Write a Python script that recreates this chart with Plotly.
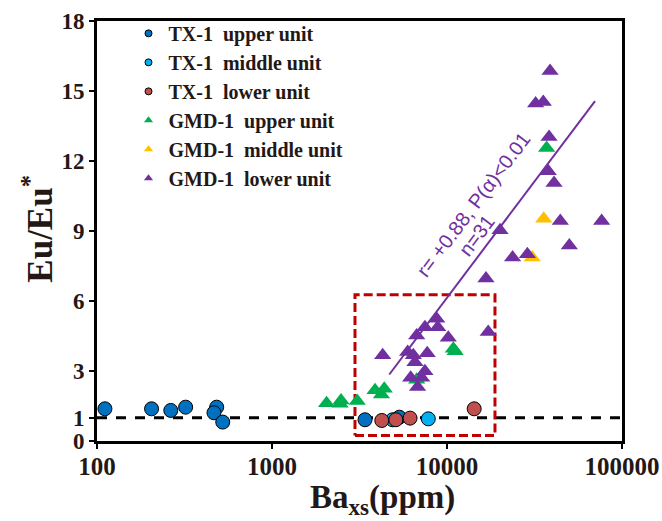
import plotly.graph_objects as go

# --- data -----------------------------------------------------------------
tx_upper_x = [111, 205, 264, 321, 483, 466, 523, 3400, 5340]
tx_upper_y = [1.38, 1.38, 1.31, 1.45, 1.45, 1.21, 0.81, 0.91, 1.02]

tx_middle_x = [4890, 7820]
tx_middle_y = [0.91, 0.95]

tx_lower_x = [4240, 5100, 6150, 14300]
tx_lower_y = [0.88, 0.91, 0.98, 1.38]

gmd_upper_x = [2050, 2480, 2450, 3070, 3880, 4380, 4220, 10870, 11120, 6710, 37100]
gmd_upper_y = [1.62, 1.74, 1.60, 1.71, 2.17, 2.24, 1.99, 3.95, 3.85, 2.62, 12.56]

gmd_middle_x = [35700, 30700]
gmd_middle_y = [9.53, 7.86]

gmd_lower_x = [38800, 32100, 35500, 38300, 37900, 40900, 44400, 76500, 50000,
               23700, 28800, 20100, 16700, 8730, 8850, 7480, 10170, 17200, 6710,
               4290, 5960, 6420, 6560, 7710, 7480, 6200, 7170, 6790]
gmd_lower_y = [15.86, 14.46, 14.53, 13.03, 11.56, 11.06, 9.43, 9.43, 8.38,
               7.86, 8.00, 9.03, 6.96, 5.24, 4.88, 4.88, 4.43, 4.67, 4.52,
               3.67, 3.81, 3.67, 3.38, 3.76, 2.99, 2.71, 2.71, 2.31]

# regression line (GMD-1) endpoints
fit_x = [4680, 70100]
fit_y = [2.85, 14.57]

# highlighted window
box_x = [2980, 18800, 18800, 2980, 2980]
box_y = [0.24, 0.24, 6.27, 6.27, 0.24]

x_ticks = [100, 1000, 10000, 100000]
x_tick_text = ["100", "1000", "10000", "100000"]
y_ticks = [0, 1, 3, 6, 9, 12, 15, 18]

TEXT = "#231815"
SERIF = "Liberation Serif"

fig = go.Figure()

# reference level Eu/Eu* = 1
fig.add_trace(go.Scatter(x=[100, 100000], y=[1, 1], mode="lines",
                         line=dict(color="black", width=3, dash="10px,9px"),
                         showlegend=False, hoverinfo="skip"))

# dashed window
fig.add_trace(go.Scatter(x=box_x, y=box_y, mode="lines",
                         line=dict(color="#C00000", width=3, dash="9px,4px"),
                         showlegend=False, hoverinfo="skip"))

series = [
    ("TX-1\u00a0 upper unit", tx_upper_x, tx_upper_y, "circle", "#0070C0"),
    ("TX-1\u00a0 middle unit", tx_middle_x, tx_middle_y, "circle", "#00B0F0"),
    ("TX-1\u00a0 lower unit", tx_lower_x, tx_lower_y, "circle", "#C0504D"),
    ("GMD-1\u00a0 upper unit", gmd_upper_x, gmd_upper_y, "triangle-up", "#00B050"),
    ("GMD-1\u00a0 middle unit", gmd_middle_x, gmd_middle_y, "triangle-up", "#FFC000"),
    ("GMD-1\u00a0 lower unit", gmd_lower_x, gmd_lower_y, "triangle-up", "#7030A0"),
]

# draw order: triangles first, circles on top
for name, xs, ys, sym, col in series[3:] + series[:3]:
    if sym == "circle":
        mk = dict(symbol=sym, size=14, color=col, line=dict(color="black", width=1))
    else:
        mk = dict(symbol=sym, size=15, color=col, line=dict(width=0))
    fig.add_trace(go.Scatter(x=xs, y=ys, mode="markers", marker=mk,
                             name=name, showlegend=False))

fig.add_trace(go.Scatter(x=fit_x, y=fit_y, mode="lines",
                         line=dict(color="#7030A0", width=2),
                         showlegend=False, hoverinfo="skip"))

# compact legend entries
for i, (name, xs, ys, sym, col) in enumerate(series):
    if sym == "circle":
        mk = dict(symbol=sym, size=7, color=col, line=dict(color="black", width=1))
    else:
        mk = dict(symbol=sym, size=8, color=col, line=dict(width=0))
    fig.add_trace(go.Scatter(x=[None], y=[None], mode="markers", marker=mk,
                             name=name, showlegend=True))

fig.add_annotation(xref="paper", yref="paper", x=0.716, y=0.563,
                   text="r= +0.88, P(α)<0.01", textangle=-53, showarrow=False,
                   xanchor="center", yanchor="middle",
                   font=dict(family="Liberation Sans", size=20, color="#7030A0"))
fig.add_annotation(xref="paper", yref="paper", x=0.722, y=0.489,
                   text="n=31", textangle=-53, showarrow=False,
                   xanchor="center", yanchor="middle",
                   font=dict(family="Liberation Sans", size=20, color="#7030A0"))

# axis titles
fig.add_annotation(xref="paper", yref="paper", x=0.543, y=-0.14,
                   text="Ba<sub>xs</sub>(ppm)", showarrow=False,
                   xanchor="center", yanchor="middle",
                   font=dict(family=SERIF, size=33, color=TEXT, weight="bold"))
fig.add_annotation(xref="paper", yref="paper", x=-0.112, y=0.506,
                   text="Eu/Eu<sup>*</sup>", textangle=-90, showarrow=False,
                   xanchor="center", yanchor="middle",
                   font=dict(family=SERIF, size=35, color=TEXT, weight="bold"))

axis_common = dict(showline=True, linecolor="black", linewidth=3, mirror=True,
                   ticks="outside", ticklen=5, tickwidth=2, tickcolor="black",
                   showgrid=False, zeroline=False, automargin=False)

fig.update_xaxes(type="log", range=[2, 5], tickvals=x_ticks, ticktext=x_tick_text,
                 tickfont=dict(family=SERIF, size=25, color=TEXT, weight="bold"),
                 ticklabelstandoff=-4, **axis_common)
fig.update_yaxes(range=[0, 18], tickvals=y_ticks,
                 tickfont=dict(family=SERIF, size=23, color=TEXT, weight="bold"),
                 **axis_common)

fig.update_layout(
    width=662, height=521,
    margin=dict(l=97, r=40, t=21, b=80),
    plot_bgcolor="white", paper_bgcolor="white",
    legend=dict(x=0.06, y=1.017, xanchor="left", yanchor="top",
                traceorder="normal",
                bgcolor="rgba(0,0,0,0)", borderwidth=0,
                font=dict(family=SERIF, size=20, color=TEXT, weight="bold"),
                itemwidth=30),
)

fig.write_html("out.html")
